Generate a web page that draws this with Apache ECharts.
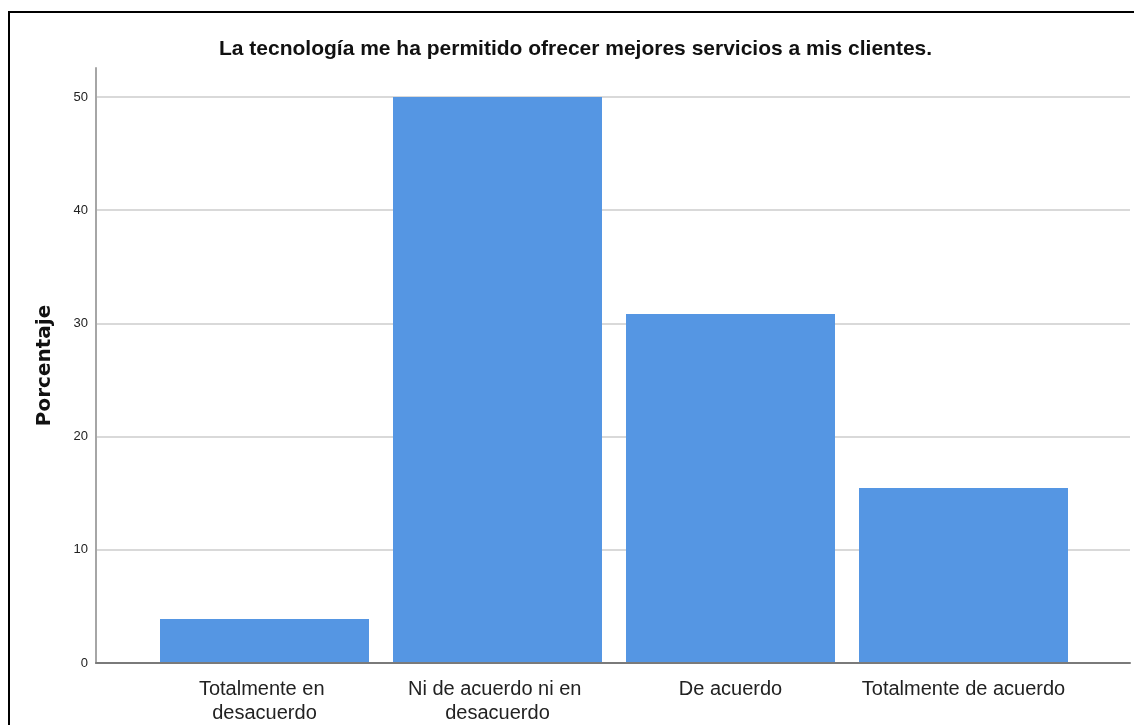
<!DOCTYPE html>
<html>
<head>
<meta charset="utf-8">
<script src="https://cdn.jsdelivr.net/npm/echarts@6/dist/echarts.min.js"></script>
<style>
  html, body { margin: 0; padding: 0; background: #fff; }
  #chart { width: 1134px; height: 725px; }
</style>
</head>
<body>
<div id="chart"></div>
<script>
const categories = [
  'Totalmente en desacuerdo',
  'Ni de acuerdo ni en desacuerdo',
  'De acuerdo',
  'Totalmente de acuerdo'
]
const percentages = [3.8, 50.0, 30.8, 15.4]
const yTicks = { min: 0, max: 52.56, interval: 10 }

const chart = echarts.init(document.getElementById('chart'))

const option = {
  backgroundColor: '#fff',
  animation: false,
  title: {
    text: 'La tecnología me ha permitido ofrecer mejores servicios a mis clientes.',
    left: 219,
    top: 39,
    padding: 0,
    textStyle: {
      fontFamily: 'Liberation Sans',
      fontSize: 21,
      fontWeight: 'bold',
      color: '#111'
    }
  },
  graphic: [
    {
      type: 'rect',
      shape: { x: 9, y: 12, width: 1200, height: 800 },
      style: { fill: 'none', stroke: '#000', lineWidth: 2 },
      silent: true
    }
  ],
  grid: [
    { left: 96, right: 4, top: 68, bottom: 62 },
    { left: 148, right: 54, top: 68, bottom: 62 }
  ],
  xAxis: [
    {
      type: 'category',
      gridIndex: 0,
      data: categories,
      axisLine: { lineStyle: { color: '#7a7a7a', width: 2 } },
      axisTick: { show: false },
      axisLabel: { show: false },
      splitLine: { show: false }
    },
    {
      type: 'category',
      gridIndex: 1,
      data: categories,
      axisLine: { show: false },
      axisTick: { show: false },
      axisLabel: {
        interval: 0,
        margin: 15,
        width: 215,
        overflow: 'break',
        lineHeight: 24,
        fontFamily: 'Liberation Sans',
        fontSize: 20,
        color: '#222'
      }
    }
  ],
  yAxis: [
    {
      type: 'value',
      gridIndex: 0,
      min: yTicks.min,
      max: yTicks.max,
      interval: yTicks.interval,
      name: 'Porcentaje',
      nameLocation: 'middle',
      nameGap: 41,
      nameTextStyle: {
        fontFamily: 'DejaVu Sans',
        fontSize: 20,
        fontWeight: 'bold',
        color: '#111'
      },
      axisLine: { show: true, lineStyle: { color: '#a6a6a6', width: 2 } },
      axisTick: { show: false },
      axisLabel: {
        margin: 8,
        showMaxLabel: false,
        fontFamily: 'Liberation Sans',
        fontSize: 13,
        color: '#222'
      },
      splitLine: {
        show: true,
        showMaxLine: false,
        lineStyle: { color: '#d9d9d9', width: 2 }
      }
    },
    {
      type: 'value',
      gridIndex: 1,
      min: yTicks.min,
      max: yTicks.max,
      interval: yTicks.interval,
      show: false,
      splitLine: { show: false }
    }
  ],
  series: [
    {
      name: 'Porcentaje',
      type: 'bar',
      xAxisIndex: 1,
      yAxisIndex: 1,
      barWidth: 209,
      data: percentages,
      itemStyle: { color: '#5596e3' }
    }
  ]
}

chart.setOption(option)
</script>
</body>
</html>
